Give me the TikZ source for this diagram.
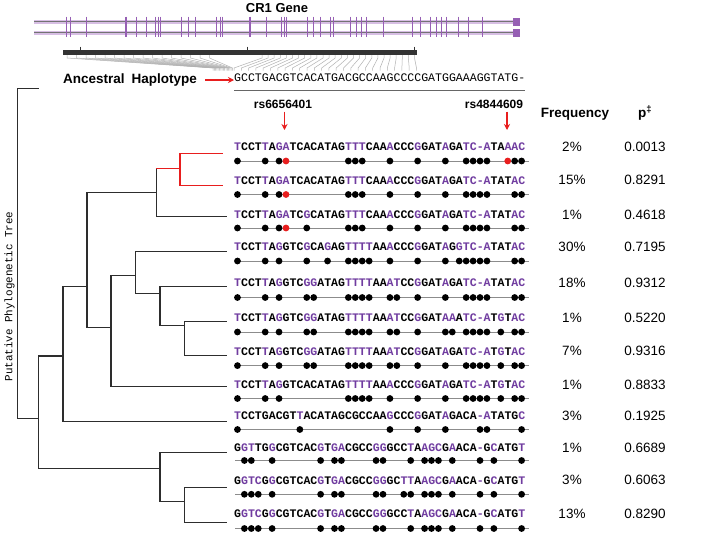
\documentclass[tikz,border=0pt]{standalone}
\usepackage{fontspec}
\setmainfont{Liberation Sans}
\newfontfamily\seqfont{Liberation Mono}
\usetikzlibrary{arrows.meta}
\definecolor{seqpurple}{RGB}{112,60,160}
\definecolor{genepurple}{RGB}{150,95,180}
\definecolor{genelight}{RGB}{215,190,228}
\definecolor{treegray}{RGB}{45,45,45}
\definecolor{arrowred}{RGB}{232,30,30}
\newcommand\pp[1]{\textcolor{seqpurple}{#1}}
\newcommand\dotrow[2]{%
  \draw[dotline] (235,#1) -- (529,#1);
  \foreach \p in {#2} {\fill[black] ({234+6.93*(\p-0.5)},#1) circle[radius=3.4pt];}%
}
\newcommand\reddot[2]{\fill[arrowred] ({234+6.93*(#2-0.5)},#1) circle[radius=3.4pt];}
\begin{document}
\begin{tikzpicture}[x=1pt,y=-1pt,
  seqtext/.style={anchor=west, inner sep=0pt, font=\seqfont\bfseries\fontsize{11.55}{12}\selectfont},
  anctext/.style={anchor=west, inner sep=0pt, font=\seqfont\fontsize{11.55}{12}\selectfont},
  valtext/.style={anchor=center, inner sep=0pt, font=\fontsize{13.5}{14}\selectfont},
  headtext/.style={anchor=base, inner sep=0pt, font=\bfseries\fontsize{13.5}{14}\selectfont},
  snptext/.style={anchor=center, inner sep=0pt, font=\bfseries\fontsize{12}{13}\selectfont},
  tree/.style={draw=treegray, line width=1.2pt, line cap=rect},
  redtree/.style={draw=arrowred, line width=1.2pt, line cap=rect},
  dotline/.style={draw=black!45, line width=1pt},
  fanline/.style={draw=black!30, line width=0.5pt},
  redarrow/.style={draw=arrowred, line width=1.4pt, -{Stealth[length=6pt,width=6pt]}},
]
\useasboundingbox (0,0) rectangle (702,536);
\fill[white] (0,0) rectangle (702,536);

% ---- gene ----
\node[anchor=base, inner sep=0pt, font=\bfseries\fontsize{13}{14}\selectfont] (gene) at (277,12.7) {CR1 Gene};
\foreach \yy in {21.5,32.5} {
  \draw[genelight, line width=4pt] (34,\yy) -- (512.7,\yy);
  \draw[black!55, line width=1.8pt] (34,\yy) -- (512.7,\yy);
}
\foreach \tx in {66.7,70,86,136.7,146.7,155,158.3,160.7,181.7,188.3,195,216.7,220,222.7,266.7,281.7,284,286,313.3,320,330,333.3,350,356.7,361.7,366.7,383.3,420.7,430,436.7,441.7,446.7,458.3,468.3,482.7}
  \draw[genepurple, line width=0.8pt] (\tx,16.5) -- (\tx,37);
\foreach \tx in {126,250,307.3,412.7}
  \draw[genepurple, line width=1.5pt] (\tx,16.5) -- (\tx,37);
\fill[genepurple] (512.7,17.5) rectangle (520,25.5);
\fill[genepurple] (512.7,28.5) rectangle (520,36.5);

% ---- region bar and fan ----
\foreach \i in {0,...,15} {
  \pgfmathsetmacro\xt{67+\i*9.5}
  \pgfmathsetmacro\xb{213+\i*1.3}
  \draw[fanline] (\xt,55) -- (\xt,58) -- (\xb,68) -- (\xb,70.5);
}
\foreach \i in {0,...,25} {
  \pgfmathsetmacro\xt{262+\i*6.1}
  \pgfmathsetmacro\xb{234+\i*7.3}
  \draw[fanline] (\xt,55) -- (\xt,58) -- (\xb,68) -- (\xb,70.5);
}
\fill[black!80] (63.3,50) rectangle (417.3,55);
\foreach \tx in {80,247.3,414.3}
  \draw[black!80, line width=0.8pt] (\tx,46.5) -- (\tx,50);

% ---- ancestral ----
\node[anchor=base west, inner sep=0pt, font=\bfseries\fontsize{13.5}{14}\selectfont] (anclabel) at (63,83.5) {Ancestral\hspace{7pt}Haplotype};
\node[anctext] (ancseq) at (234,77.5) {GCCTGACGTCACATGACGCCAAGCCCCGATGGAAAGGTATG-};
\coordinate (ancarrow) at (205,80);
\draw[redarrow] (ancarrow) -- (ancseq.west |- ancarrow);
\draw[black!60, line width=0.8pt] (234,90.7) -- (525,90.7);

% ---- SNP labels ----
\node[snptext] (snp1) at (283,104) {rs6656401};
\node[snptext] (snp2) at (494,104) {rs4844609};
\coordinate (a1s) at (284.5,111.5);
\coordinate (a1e) at (284.5,130);
\coordinate (a2s) at (507,111.5);
\coordinate (a2e) at (507,130);
\draw[redarrow] (a1s) -- (a1e);
\draw[redarrow] (a2s) -- (a2e);

\node[headtext] (freqhead) at (575,117.3) {Frequency};
\node[headtext] (phead) at (645,117.3) {p\textsuperscript{‡}};

% ---- haplotype rows ----
\node[seqtext] (s1) at (234,146.7) {\pp{T}CCT\pp{T}A\pp{GA}TCACATAG\pp{TTT}CAA\pp{A}CCC\pp{G}GAT\pp{A}GA\pp{TC-A}TA\pp{AAC}};
\node[seqtext] (s2) at (234,180.3) {\pp{T}CCT\pp{T}A\pp{GA}TCACATAG\pp{TTT}CAA\pp{A}CCC\pp{G}GAT\pp{A}GA\pp{TC-A}TAT\pp{AC}};
\node[seqtext] (s3) at (234,215) {\pp{T}CCT\pp{T}A\pp{GA}TC\pp{G}CATAG\pp{TTT}CAA\pp{A}CCC\pp{G}GAT\pp{A}GA\pp{TC-A}TAT\pp{AC}};
\node[seqtext] (s4) at (234,246.5) {\pp{T}CCT\pp{T}A\pp{G}GTC\pp{G}CA\pp{G}AG\pp{TTTT}AA\pp{A}CCC\pp{G}GAT\pp{A}G\pp{GTC-A}TAT\pp{AC}};
\node[seqtext] (s5) at (234,282.5) {\pp{T}CCT\pp{T}A\pp{G}GTC\pp{GG}ATAG\pp{TTTT}AA\pp{AT}CC\pp{G}GAT\pp{A}GA\pp{TC-A}TAT\pp{AC}};
\node[seqtext] (s6) at (234,317.8) {\pp{T}CCT\pp{T}A\pp{G}GTC\pp{GG}ATAG\pp{TTTT}AA\pp{AT}CC\pp{G}GAT\pp{AA}A\pp{TC-A}T\pp{G}T\pp{AC}};
\node[seqtext] (s7) at (234,351.3) {\pp{T}CCT\pp{T}A\pp{G}GTC\pp{GG}ATAG\pp{TTTT}AA\pp{AT}CC\pp{G}GAT\pp{A}GA\pp{TC-A}T\pp{G}T\pp{AC}};
\node[seqtext] (s8) at (234,385) {\pp{T}CCT\pp{T}A\pp{G}GTCACATAG\pp{TTTT}AA\pp{A}CCC\pp{G}GAT\pp{A}GA\pp{TC-A}T\pp{G}T\pp{AC}};
\node[seqtext] (s9) at (234,416) {\pp{T}CCTGACGT\pp{T}ACATAGCGCCAA\pp{G}CCC\pp{G}GAT\pp{A}GACA\pp{-A}TATG\pp{C}};
\node[seqtext] (s10) at (234,448) {G\pp{GT}TG\pp{G}CGTCAC\pp{G}T\pp{GA}CGCC\pp{GG}GCC\pp{T}A\pp{AGC}G\pp{A}ACA\pp{-}G\pp{C}ATG\pp{T}};
\node[seqtext] (s11) at (234,480.3) {G\pp{GTC}G\pp{G}CGTCAC\pp{G}T\pp{GA}CGCC\pp{GG}GC\pp{TT}A\pp{AGC}G\pp{A}ACA\pp{-}G\pp{C}ATG\pp{T}};
\node[seqtext] (s12) at (234,513.5) {G\pp{GTC}G\pp{G}CGTCAC\pp{G}T\pp{GA}CGCC\pp{GG}GCC\pp{T}A\pp{AGC}G\pp{A}ACA\pp{-}G\pp{C}ATG\pp{T}};

\dotrow{161}{1,5,7,17,18,19,23,27,31,34,35,36,37,41,42}
\reddot{161}{8}\reddot{161}{40}
\dotrow{194.5}{1,5,7,17,18,19,23,27,31,34,35,36,37,41,42}
\reddot{194.5}{8}
\dotrow{228}{1,5,7,11,17,18,19,23,27,31,34,35,36,37,41,42}
\reddot{228}{8}
\dotrow{261}{1,5,7,11,14,17,18,19,20,23,27,31,33,34,35,36,37,41,42}
\dotrow{297.5}{1,5,7,11,12,17,18,19,20,23,24,27,31,34,35,36,37,41,42}
\dotrow{332}{1,5,7,11,12,17,18,19,20,23,24,27,31,32,34,35,36,37,39,41,42}
\dotrow{365.6}{1,5,7,11,12,17,18,19,20,23,24,27,31,34,35,36,37,39,41,42}
\dotrow{398.5}{1,5,7,17,18,19,20,23,27,31,34,35,36,37,39,41,42}
\dotrow{429.5}{1,10,23,27,31,36,37,42}
\dotrow{460.5}{2,3,6,13,15,16,21,22,26,28,29,30,32,36,38,42}
\dotrow{494.3}{2,3,4,6,13,15,16,21,22,25,26,28,29,30,32,36,38,42}
\dotrow{528.5}{2,3,4,6,13,15,16,21,22,26,28,29,30,32,36,38,42}

% ---- frequency and p ----
\node[valtext] (f1) at (572,146.7) {2\%};
\node[valtext] (f2) at (572,180.3) {15\%};
\node[valtext] (f3) at (572,215) {1\%};
\node[valtext] (f4) at (572,246.5) {30\%};
\node[valtext] (f5) at (572,282.5) {18\%};
\node[valtext] (f6) at (572,317.8) {1\%};
\node[valtext] (f7) at (572,351.3) {7\%};
\node[valtext] (f8) at (572,385) {1\%};
\node[valtext] (f9) at (572,416) {3\%};
\node[valtext] (f10) at (572,448) {1\%};
\node[valtext] (f11) at (572,480.3) {3\%};
\node[valtext] (f12) at (572,513.5) {13\%};
\node[valtext] (p1) at (645,146.7) {0.0013};
\node[valtext] (p2) at (645,180.3) {0.8291};
\node[valtext] (p3) at (645,215) {0.4618};
\node[valtext] (p4) at (645,246.5) {0.7195};
\node[valtext] (p5) at (645,282.5) {0.9312};
\node[valtext] (p6) at (645,317.8) {0.5220};
\node[valtext] (p7) at (645,351.3) {0.9316};
\node[valtext] (p8) at (645,385) {0.8833};
\node[valtext] (p9) at (645,416) {0.1925};
\node[valtext] (p10) at (645,448) {0.6689};
\node[valtext] (p11) at (645,480.3) {0.6063};
\node[valtext] (p12) at (645,513.5) {0.8290};

% ---- tree ----
\coordinate (L1) at (222.7,153.3);
\coordinate (L2) at (222.7,185.3);
\coordinate (L3) at (226.7,216.7);
\coordinate (L4) at (226.7,251.7);
\coordinate (L5) at (226.7,286.7);
\coordinate (L6) at (226.7,321.7);
\coordinate (L7) at (226.7,355.7);
\coordinate (L8) at (226.7,386.7);
\coordinate (L9) at (226.7,421.7);
\coordinate (L10) at (226.7,452.3);
\coordinate (L11) at (226.7,487.3);
\coordinate (L12) at (226.7,522.3);
\coordinate (N5) at (180,168.3);
\coordinate (N4) at (156.7,192.7);
\coordinate (N3) at (87,286.7);
\coordinate (N2) at (63,356);
\coordinate (N1) at (38.3,418.3);
\coordinate (N6) at (111,327.7);
\coordinate (N7) at (135.7,275.7);
\coordinate (N8) at (160,293.3);
\coordinate (N9) at (184.3,325.7);
\coordinate (N10) at (160,468.3);
\coordinate (N11) at (184.3,501.7);
\coordinate (R) at (17.3,88.3);
\coordinate (A0) at (38,88.3);

\draw[redtree] (N5) |- (L1);
\draw[redtree] (N5) |- (L2);
\draw[tree] (N4) -- (N4 |- N5);
\draw[redtree] (N4 |- N5) -- (N5);
\draw[tree] (N4) |- (L3);
\draw[tree] (N3) |- (N4);
\draw[tree] (N3) |- (N6);
\draw[tree] (N6) |- (N7);
\draw[tree] (N6) |- (L8);
\draw[tree] (N7) |- (L4);
\draw[tree] (N7) |- (N8);
\draw[tree] (N8) |- (L5);
\draw[tree] (N8) |- (N9);
\draw[tree] (N9) |- (L6);
\draw[tree] (N9) |- (L7);
\draw[tree] (N2) |- (N3);
\draw[tree] (N2) |- (L9);
\draw[tree] (N1) |- (N2);
\draw[tree] (N1) |- (N10);
\draw[tree] (N10) |- (L10);
\draw[tree] (N10) |- (N11);
\draw[tree] (N11) |- (L11);
\draw[tree] (N11) |- (L12);
\draw[tree] (R) -- (A0);
\draw[tree] (R) |- (N1);

\node[rotate=90, inner sep=0pt, text=black, font=\seqfont\fontsize{10.9}{11}\selectfont] (treelabel) at (9.5,296.5) {Putative Phylogenetic Tree};
\end{tikzpicture}
\end{document}
